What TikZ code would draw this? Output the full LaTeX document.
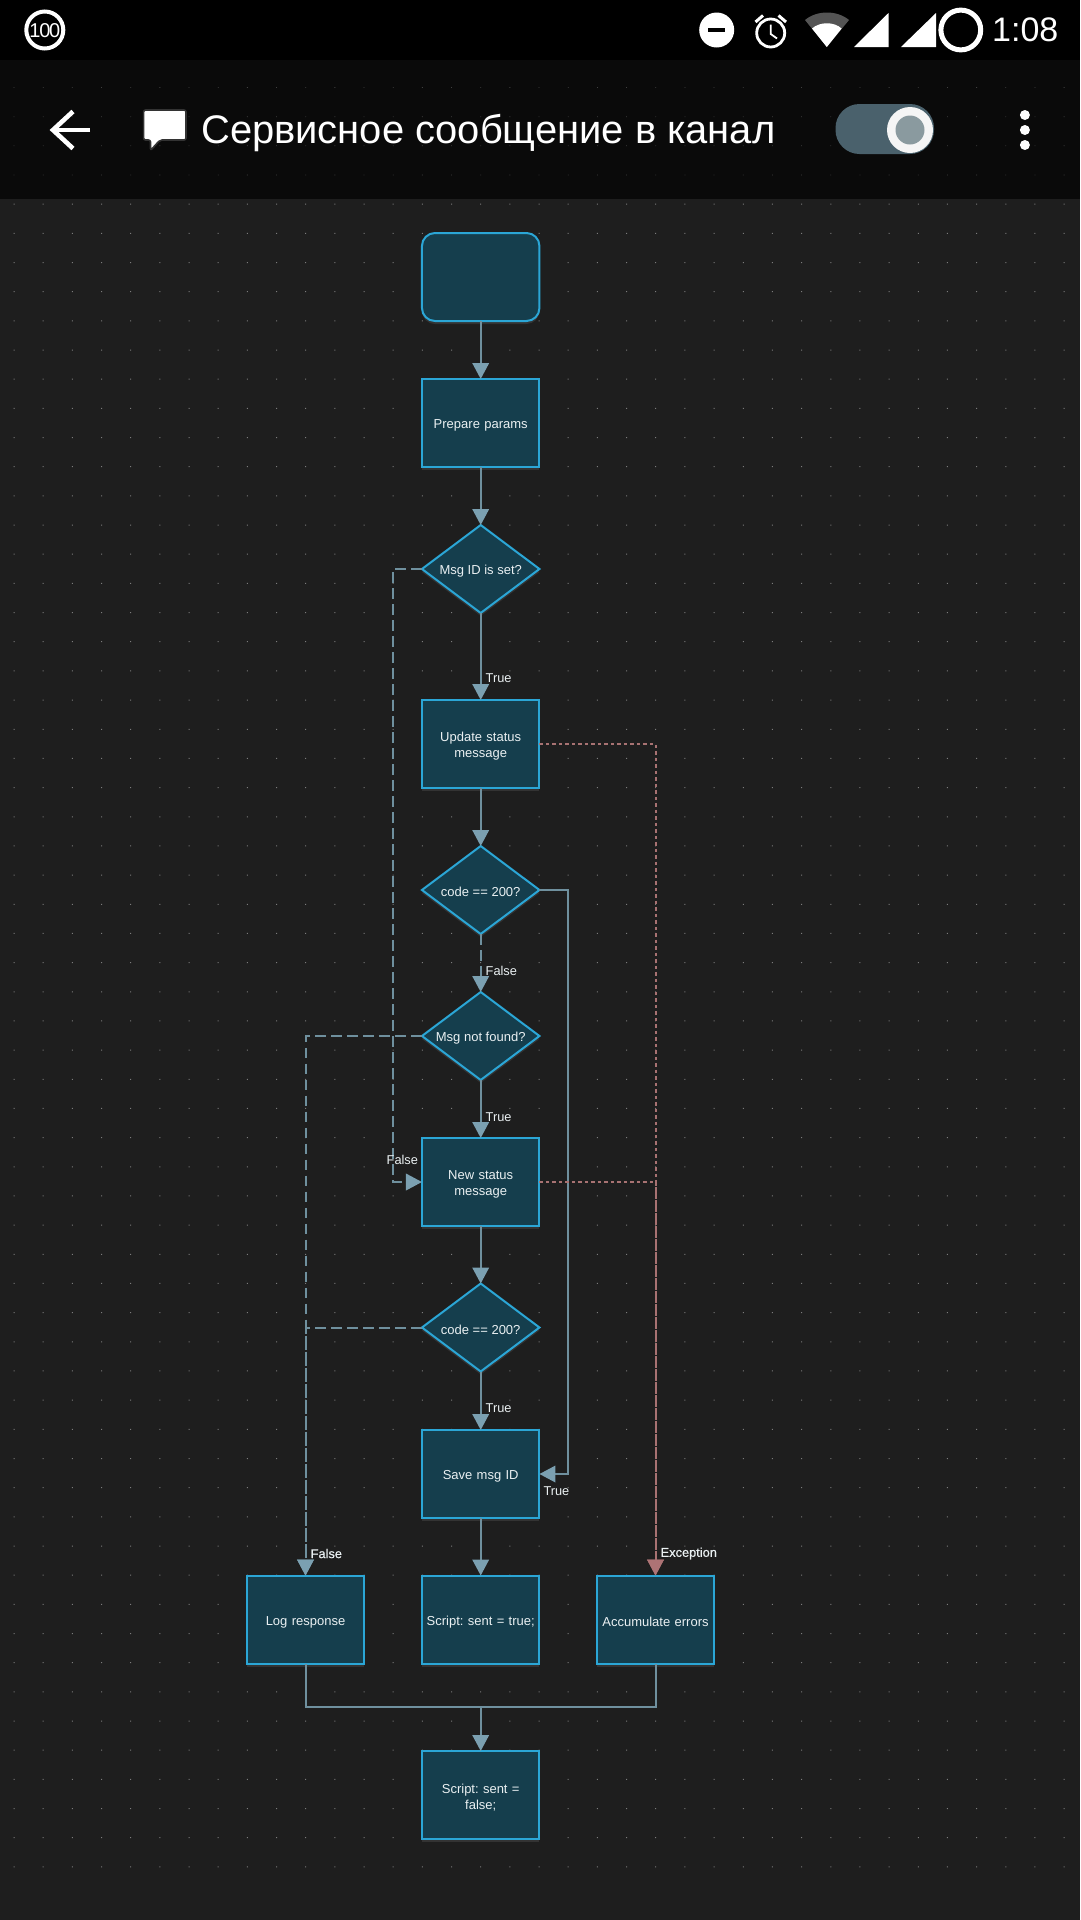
\documentclass[tikz,border=0pt]{standalone}
\usepackage{fontspec}
\setmainfont{Liberation Sans}
\newfontfamily\boldlabel[FakeBold=0.5]{Liberation Sans}
\usetikzlibrary{arrows.meta,shapes.geometric,shadows}
\definecolor{bgc}{HTML}{1E1E1E}
\definecolor{barc}{HTML}{000000}
\definecolor{headc}{HTML}{0A0A0A}
\definecolor{nodefill}{HTML}{153E4D}
\definecolor{nodeline}{HTML}{2BA6D6}
\definecolor{linec}{HTML}{6F909E}
\definecolor{headtip}{HTML}{7BA0B1}
\definecolor{redline}{HTML}{A87272}
\definecolor{redtip}{HTML}{AD7375}
\definecolor{txt}{HTML}{EAF0F2}
\definecolor{pill}{HTML}{4A616C}
\definecolor{knob}{HTML}{8A9A9F}
\tikzset{
  x=1pt,y=-1pt,
  base/.style={draw=nodeline,fill=nodefill,line width=2pt,text=txt,font=\fontsize{13}{16}\selectfont\frenchspacing,
    align=center,inner sep=0pt,outer sep=0pt,
    execute at begin node={\rule{0pt}{14pt}},
    drop shadow={opacity=.22,shadow xshift=0pt,shadow yshift=-3pt}},
  procbox/.style={base,rectangle,minimum width=117.5pt,minimum height=88pt,text width=114pt},
  startbox/.style={procbox,rounded corners=13pt},
  decbox/.style={base,diamond,shape aspect=1.335,minimum width=117.5pt,minimum height=88pt},
  flow/.style={draw=linec,line width=2pt,-{Triangle[length=16pt,width=16.5pt,fill=headtip,color=headtip]}},
  flowplain/.style={draw=linec,line width=2pt},
  dashflow/.style={flow,dash pattern=on 10.5pt off 5.5pt},
  errflow/.style={draw=redline,line width=2pt,dash pattern=on 3.3pt off 3.2pt,
    -{Triangle[length=16pt,width=16.5pt,fill=redtip,color=redtip]}},
  lbl/.style={text=txt,font=\fontsize{12.8}{15}\selectfont,inner sep=0pt,anchor=west},
  lblb/.style={text=txt,font=\fontsize{12.8}{15}\boldlabel,inner sep=0pt,anchor=west},
}
\begin{document}
\begin{tikzpicture}
\useasboundingbox (0,0) rectangle (1080,1920);
% backgrounds
\fill[bgc] (0,0) rectangle (1080,1920);
\fill[headc] (0,60) rectangle (1080,199);
\fill[barc] (0,0) rectangle (1080,60);
% grid
\fill[white!22!headc] \foreach \i in {0,...,36}{\foreach \j in {0,...,3}{
  ({14+\i*29.17-.4},{87.5+\j*29.17-.4}) rectangle +(.8,.8)}};
\fill[white!42!bgc] \foreach \i in {0,...,36}{\foreach \j in {4,...,61}{
  ({14+\i*29.17-.5},{87.5+\j*29.17-.5}) rectangle +(1,1)}};
% status bar
\draw[white,line width=4pt] (44.8,30) circle (18.5);
\node[text=white,inner sep=0pt,font=\fontsize{20}{20}\selectfont] (batt) at (44.8,30.5) {\addfontfeature{LetterSpace=-6}100};
\fill[white] (716.7,30) circle (17.5);
\fill[barc] (708,28) rectangle (725,32);
\draw[white,line width=2.8pt] (770.7,33) circle (14);
\draw[white,line width=1.8pt] (770.7,24.5) -- (770.7,34) -- (777,38.5);
\draw[white,line width=3pt] (755.5,22) -- (763,15.5) (786,22) -- (778.5,15.5);
\fill[white!33!black] (826.8,47) -- (805,20) .. controls (817,10) and (837,10) .. (849,20) -- cycle;
\fill[white] (826.8,47) -- (812,28.5) .. controls (820,21.5) and (834,21.5) .. (841.6,28.5) -- cycle;
\fill[white] (854,47) -- (888.5,47) -- (888.5,13) -- cycle;
\fill[white] (901,47) -- (936,47) -- (936,13) -- cycle;
\draw[white,line width=5pt] (960.8,30) circle (19.9);
\node[text=white,inner sep=0pt,anchor=west,font=\fontsize{34}{34}\selectfont] (clock) at (992,30) {1:08};
% app bar
\draw[white,line width=4.6pt] (90,130) -- (54,130);
\draw[white,line width=4.6pt] (73,111.5) -- (53,130) -- (73,148.5);
\draw[white!20!black,line width=1.6pt,fill=white,rounded corners=2pt,line join=round]
  (143.6,110) -- (186,110) -- (186,140) -- (160,140) -- (150.5,150.5) -- (150.5,140) -- (143.6,140) -- cycle;
\node[text=white,inner sep=0pt,anchor=west,font=\fontsize{39.9}{40}\selectfont] (title) at (201,133) {Сервисное сообщение в канал};
\fill[pill,rounded corners=24pt] (835.5,104) rectangle (934,154);
\fill[white!96!black] (910,130) circle (23);
\fill[knob] (910,130) circle (14.5);
\fill[white] (1024.9,115) circle (5) (1024.9,130) circle (5) (1024.9,145) circle (5);
% nodes
\node[startbox] (start) at (480.7,277) {};
\node[procbox] (prep) at (480.7,423) {Prepare params};
\node[decbox] (msgset) at (480.7,569) {Msg ID is set?};
\node[procbox] (update) at (480.7,744) {Update status\\message};
\node[decbox] (codeA) at (480.7,890) {code == 200?};
\node[decbox] (notfound) at (480.7,1036) {Msg not found?};
\node[procbox] (newmsg) at (480.7,1182) {New status\\message};
\node[decbox] (codeB) at (480.7,1327.5) {code == 200?};
\node[procbox] (save) at (480.7,1474) {Save msg ID};
\node[procbox] (logr) at (305.5,1619.5) {Log response};
\node[procbox] (sentT) at (480.7,1619.5) {Script: sent = true;};
\node[procbox] (acc) at (655.5,1619.5) {Accumulate errors};
\node[procbox] (sentF) at (480.7,1795) {Script: sent =\\false;};
% routing points
\coordinate (jA) at (393,569);
\coordinate (jB) at (305.5,1036);
\coordinate (jC) at (305.5,1327.5);
\coordinate (jD) at (568,890);
\coordinate (jE) at (655.5,744);
\coordinate (jF) at (655.5,1182);
\coordinate (jG) at (480.7,1707);
% connectors
\draw[flow] (start.south) -- (prep.north);
\draw[flow] (prep.south) -- (msgset.north);
\draw[flow] (msgset.south) -- (update.north);
\draw[flow] (update.south) -- (codeA.north);
\draw[dashflow] (codeA.south) -- (notfound.north);
\draw[flow] (notfound.south) -- (newmsg.north);
\draw[flow] (newmsg.south) -- (codeB.north);
\draw[flow] (codeB.south) -- (save.north);
\draw[flow] (save.south) -- (sentT.north);
\draw[dashflow] (msgset.west) -- (jA) |- (newmsg.west);
\draw[dashflow] (notfound.west) -- (jB) -- (logr.north);
\draw[dashflow] (codeB.west) -- (jC) -- (logr.north);
\draw[flow] (codeA.east) -- (jD) |- (save.east);
\draw[errflow] (update.east) -- (jE) -- (acc.north);
\draw[errflow] (newmsg.east) -- (jF) -- (acc.north);
\draw[flowplain] (logr.south) |- (jG);
\draw[flowplain] (acc.south) |- (jG);
\draw[flow] (jG) -- (sentF.north);
% labels
\node[lbl] (tA) at (485.5,678.5) {True};
\node[lbl] (fA) at (485.5,970.5) {False};
\node[lbl] (tB) at (485.5,1117) {True};
\node[lbl] (fB) at (386.5,1160) {False};
\node[lbl] (tC) at (485.5,1408) {True};
\node[lbl] (tD) at (543.3,1491) {True};
\node[lblb] (fC) at (310.5,1553.5) {False};
\node[lblb] (ex) at (660.5,1553.5) {Exception};
\end{tikzpicture}
\end{document}
